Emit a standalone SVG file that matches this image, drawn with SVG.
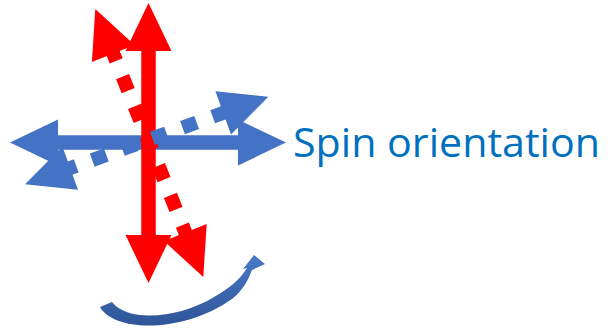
<svg xmlns="http://www.w3.org/2000/svg" width="611" height="334" viewBox="0 0 611 334">
  <defs>
    <style>
      .red { fill: #FF0000; }
      .blue { fill: #4472C4; }
      .rshaft { stroke: #FF0000; stroke-width: 14.5; fill: none; }
      .bshaft { stroke: #4472C4; stroke-width: 14.5; fill: none; }
      .dots { stroke-dasharray: 15 17; stroke-width: 14; }
      .label { font-family: "Open Sans", "Liberation Sans", sans-serif; font-size: 41px; fill: #0070C0; }
    </style>
    <linearGradient id="curveGrad" x1="0" y1="0" x2="0" y2="1">
      <stop offset="0" stop-color="#4A78C8"/>
      <stop offset="1" stop-color="#2E5597"/>
    </linearGradient>
  </defs>
  <rect width="611" height="334" fill="#FFFFFF"/>

  <g id="blue-solid-arrow" transform="translate(148,142.5)">
    <line class="bshaft" x1="-91" y1="0" x2="91" y2="0"/>
    <polygon class="blue" points="138,0 90,-23 90,23"/>
    <polygon class="blue" points="-138,0 -90,-23 -90,23"/>
  </g>

  <g id="red-solid-arrow" transform="translate(148.5,143) rotate(90)">
    <line class="rshaft" x1="-93" y1="0" x2="93" y2="0"/>
    <polygon class="red" points="140,0 92,-23 92,23"/>
    <polygon class="red" points="-140,0 -92,-23 -92,23"/>
  </g>

  <g id="red-dotted-arrow" transform="translate(149.3,143) rotate(68.05)">
    <line class="rshaft dots" x1="-103.5" y1="0" x2="103.5" y2="0"/>
    <polygon class="red" points="144.5,0 96.5,-23 96.5,23"/>
    <polygon class="red" points="-144.5,0 -96.5,-23 -96.5,23"/>
  </g>

  <g id="blue-dotted-arrow" transform="translate(146.7,140.5) rotate(-19.8)">
    <line class="bshaft dots" x1="-89.9" y1="0" x2="85" y2="0"/>
    <polygon class="blue" points="129.3,0 81.3,-23 81.3,23"/>
    <polygon class="blue" points="-129.3,0 -81.3,-23 -81.3,23"/>
  </g>

  <g id="rotation-arrow">
    <path fill="url(#curveGrad)" d="M100,307 C114,332 182,334 232,299 C242,291 248,281 252,270 L265,264 L254,255 L243,269 L247,268 C240,280 228,289 214,297 C180,318 128,323 112,302 Z"/>
  </g>

  <g id="label">
    <text class="label" x="293" y="157" textLength="307" lengthAdjust="spacingAndGlyphs">Spin orientation</text>
  </g>
</svg>
